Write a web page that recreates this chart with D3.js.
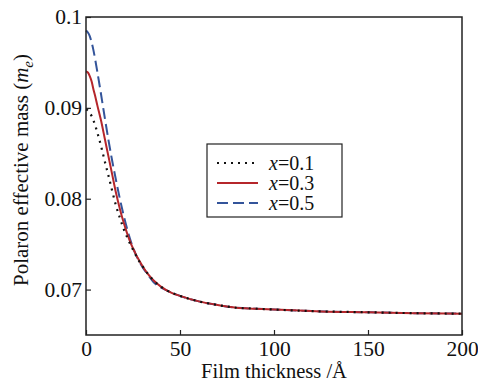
<!DOCTYPE html>
<html lang="en">
<head>
<meta charset="UTF-8">
<title>Polaron effective mass</title>
<script src="https://d3js.org/d3.v7.min.js"></script>
<style>
  body { margin: 0; background: #fff; }
  svg { display: block; }
</style>
</head>
<body>
<svg></svg>
<script>
const width = 478, height = 384;
const FONT = "Liberation Serif";

// film thickness (Å)
const thickness = [0, 1, 2, 3, 4, 5, 6, 8, 10, 12, 14, 16, 18, 20, 22, 24, 26, 28, 30, 33, 36, 40, 45, 50, 60, 70, 80, 90, 100, 125, 150, 175, 200];
const mass01 = [0.0898, 0.0897, 0.0894, 0.0891, 0.0886, 0.0880, 0.0873, 0.0858, 0.0841, 0.0825, 0.0808, 0.0792, 0.0779, 0.0767, 0.0757, 0.0748, 0.0740, 0.0732, 0.0726, 0.0717, 0.0710, 0.0703, 0.0697, 0.0693, 0.0687, 0.0683, 0.0680, 0.0679, 0.0678, 0.0676, 0.0675, 0.0674, 0.06735];
const mass03 = [0.0940, 0.0939, 0.0935, 0.0929, 0.0920, 0.0912, 0.0903, 0.0886, 0.0866, 0.0846, 0.0826, 0.0806, 0.0789, 0.0774, 0.0761, 0.0750, 0.0741, 0.0733, 0.0726, 0.0717, 0.0710, 0.0703, 0.0697, 0.0693, 0.0687, 0.0683, 0.0680, 0.0679, 0.0678, 0.0676, 0.0675, 0.0674, 0.06735];
const mass05 = [0.0985, 0.0983, 0.0979, 0.0972, 0.0963, 0.0952, 0.0940, 0.0915, 0.0889, 0.0864, 0.0841, 0.0820, 0.0800, 0.0782, 0.0766, 0.0752, 0.0741, 0.0732, 0.0725, 0.0716, 0.0708, 0.0702, 0.0697, 0.0693, 0.0687, 0.0683, 0.0680, 0.0679, 0.0678, 0.0676, 0.0675, 0.0674, 0.06735];
const seriesNames = ["0.1", "0.3", "0.5"];
const xTicks = [0, 50, 100, 150, 200];
const yTicks = [0.07, 0.08, 0.09, 0.1];

const margin = {top: 17, right: 16, bottom: 49, left: 86};
const iw = width - margin.left - margin.right;
const ih = height - margin.top - margin.bottom;

const svg = d3.select("svg").attr("width", width).attr("height", height)
  .attr("font-family", FONT);
const g = svg.append("g").attr("transform", `translate(${margin.left},${margin.top})`);

const x = d3.scaleLinear().domain([0, 200]).range([0, iw]);
const y = d3.scaleLinear().domain([0.065, 0.1]).range([ih, 0]);

const series = [
  {name: seriesNames[0], values: mass01, color: "#111", dash: "2,5", width: 2.2},
  {name: seriesNames[1], values: mass03, color: "#b5262b", dash: null, width: 2},
  {name: seriesNames[2], values: mass05, color: "#33549a", dash: "11,5", width: 2}
];

const line = d3.line()
  .x((d, i) => x(thickness[i]))
  .y(d => y(d))
  .curve(d3.curveMonotoneX);

// blue under red under dotted
[series[2], series[1], series[0]].forEach(s => {
  g.append("path")
    .datum(s.values)
    .attr("d", line)
    .attr("fill", "none")
    .attr("stroke", s.color)
    .attr("stroke-width", s.width)
    .attr("stroke-dasharray", s.dash);
});

// axes, ticks pointing inward
const xAxis = g.append("g").attr("transform", `translate(0,${ih})`)
  .call(d3.axisBottom(x).tickValues(xTicks).tickSize(-5).tickPadding(6).tickFormat(d3.format("d")));
const yAxis = g.append("g")
  .call(d3.axisLeft(y).tickValues(yTicks).tickSize(-5).tickPadding(4).tickFormat(d => d === 0.1 ? "0.1" : d3.format(".2f")(d)));

[xAxis, yAxis].forEach(a => {
  a.attr("font-family", FONT).attr("font-size", 21.5);
  a.select(".domain").remove();
  a.selectAll("line").attr("stroke", "#222").attr("stroke-width", 1.2);
  a.selectAll("text").attr("fill", "#111");
});

// frame
g.append("rect")
  .attr("width", iw).attr("height", ih)
  .attr("fill", "none").attr("stroke", "#222").attr("stroke-width", 1.5);

// axis titles
svg.append("text")
  .attr("x", margin.left + iw / 2).attr("y", 378)
  .attr("text-anchor", "middle").attr("font-size", 20.5).attr("fill", "#111")
  .text("Film thickness /Å");

const yt = svg.append("text")
  .attr("transform", `translate(28,${margin.top + ih / 2 - 6}) rotate(-90)`)
  .attr("text-anchor", "middle").attr("font-size", 21).attr("fill", "#111");
yt.append("tspan").text("Polaron effective mass (");
yt.append("tspan").attr("font-style", "italic").text("m");
yt.append("tspan").attr("font-style", "italic").attr("font-size", 15).attr("dy", 5).text("e");
yt.append("tspan").attr("dy", -5).text(")");

// legend
const lg = svg.append("g").attr("transform", "translate(207,144)");
lg.append("rect").attr("width", 135).attr("height", 73)
  .attr("fill", "#fff").attr("stroke", "#222").attr("stroke-width", 1.2);
series.forEach((s, i) => {
  const yy = 19 + i * 20;
  lg.append("line")
    .attr("x1", 10).attr("x2", 51).attr("y1", yy).attr("y2", yy)
    .attr("stroke", s.color).attr("stroke-width", s.width)
    .attr("stroke-dasharray", s.dash);
  const t = lg.append("text").attr("x", 62).attr("y", yy + 7)
    .attr("font-size", 20).attr("fill", "#111");
  t.append("tspan").attr("font-style", "italic").text("x");
  t.append("tspan").text("=" + s.name);
});
</script>
</body>
</html>
